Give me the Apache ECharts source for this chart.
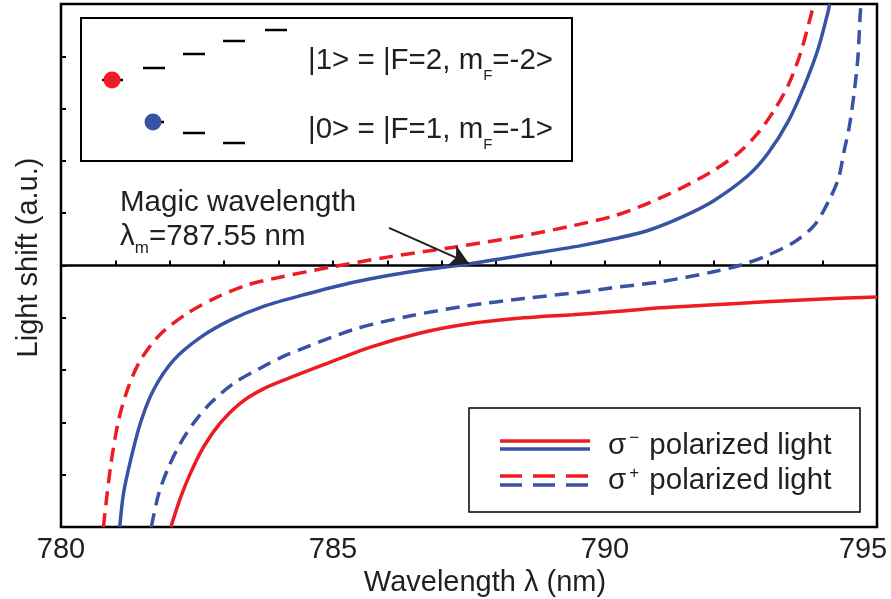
<!DOCTYPE html>
<html><head><meta charset="utf-8">
<script src="https://cdn.jsdelivr.net/npm/echarts@6/dist/echarts.min.js"></script>
<style>html,body{margin:0;padding:0;background:#fff}#c{width:891px;height:599px}</style>
</head><body><div id="c"></div>
<script>
// ---- data ----
const xMin = 780, xMax = 795;
const yMin = -5, yMax = 5;
const xLabelTicks = [780, 785, 790, 795];
const magicWavelength = 787.55;
const arrowStart = [786.03, 0.72];
const arrowEnd = [787.5, 0.04];

// sigma- polarized light, state |1> (red solid)
const sigmaMinusState1 = [
  [782.02,-5.0],[782.20,-4.43],[782.38,-3.97],[782.62,-3.47],[782.93,-3.01],[783.30,-2.63],
  [783.72,-2.36],[784.20,-2.15],[784.77,-1.92],[785.69,-1.56],[786.61,-1.29],[787.53,-1.11],
  [788.51,-1.00],[789.40,-0.94],[790.20,-0.88],[791.03,-0.81],[792.00,-0.75],[792.87,-0.70],
  [794.00,-0.64],[795.00,-0.60]
];
// sigma- polarized light, state |0> (blue solid)
const sigmaMinusState0 = [
  [781.08,-5.0],[781.15,-4.35],[781.28,-3.72],[781.46,-3.01],[781.70,-2.38],[782.07,-1.81],
  [782.57,-1.37],[783.12,-1.04],[783.70,-0.79],[784.46,-0.56],[785.38,-0.32],[786.43,-0.12],
  [787.48,0.03],[788.51,0.20],[789.56,0.38],[790.17,0.51],[790.79,0.67],[791.40,0.92],
  [792.00,1.24],[792.63,1.72],[793.00,2.15],[793.37,2.76],[793.67,3.45],[793.92,4.15],
  [794.10,4.85],[794.13,5.0]
];
// sigma+ polarized light, state |1> (red dashed)
const sigmaPlusState1 = [
  [780.78,-5.0],[780.91,-3.85],[781.06,-2.95],[781.24,-2.32],[781.46,-1.81],[781.83,-1.31],
  [782.33,-0.91],[782.88,-0.60],[783.43,-0.37],[784.00,-0.23],[784.96,-0.03],[786.00,0.16],
  [787.22,0.35],[788.45,0.56],[789.40,0.76],[790.17,0.95],[790.79,1.19],[791.40,1.48],
  [792.00,1.82],[792.45,2.15],[792.81,2.53],[793.11,2.97],[793.37,3.45],[793.60,4.08],
  [793.79,4.80],[793.84,5.0]
];
// sigma+ polarized light, state |0> (blue dashed)
const sigmaPlusState0 = [
  [781.66,-5.0],[781.80,-4.35],[781.98,-3.85],[782.20,-3.39],[782.44,-3.01],[782.75,-2.63],
  [783.18,-2.25],[783.67,-1.96],[784.04,-1.76],[784.46,-1.58],[785.39,-1.22],[786.43,-0.96],
  [787.48,-0.77],[788.51,-0.63],[789.56,-0.51],[790.11,-0.43],[791.03,-0.31],[791.95,-0.13],
  [792.50,0.01],[793.00,0.20],[793.48,0.45],[793.85,0.77],[794.12,1.25],[794.29,1.66],
  [794.40,2.21],[794.49,2.65],[794.58,3.30],[794.65,3.99],[794.69,4.79],[794.71,5.0]
];

// ---- styling ----
const RED = '#ED1C24', BLUE = '#3953A4', INK = '#231F20';
const FONT = '"Liberation Sans", Arial, Helvetica, sans-serif';
const FS = 29.5;
const DASH = [14, 8];

function curve(name, data, color, dashed) {
  return {
    name, type: 'line', data, xAxisIndex: 0, yAxisIndex: 0,
    showSymbol: false, symbol: 'none', smooth: 0.3,
    lineStyle: { color, width: 3.5, type: dashed ? DASH : 'solid', cap: 'butt' },
    silent: true, z: 3
  };
}

const chart = echarts.init(document.getElementById('c'), null, { renderer: 'canvas' });

const series = [
  curve('σ- |1>', sigmaMinusState1, RED, false),
  curve('σ+ |1>', sigmaPlusState1, RED, true),
  curve('σ+ |0>', sigmaPlusState0, BLUE, true),
  curve('σ- |0>', sigmaMinusState0, BLUE, false)
];
series[3].markLine = {
  silent: true, symbol: ['none', 'arrow'], symbolSize: [17, 19],
  label: { show: false }, emphasis: { disabled: true },
  lineStyle: { color: INK, width: 2, type: 'solid' },
  data: [[{ coord: arrowStart }, { coord: arrowEnd }]]
};

const richMain = { fontFamily: FONT, fontSize: FS, fill: INK, lineHeight: 32 };

chart.setOption({
  animation: false,
  backgroundColor: '#fff',
  grid: { left: 61, right: 14, top: 4, bottom: 72, show: true, borderColor: '#000', borderWidth: 2.5,
          backgroundColor: 'transparent', outerBoundsMode: 'none', containLabel: false },
  xAxis: [
    {
      type: 'value', min: xMin, max: xMax, interval: 5, position: 'bottom',
      axisLine: { show: false, onZero: false }, axisTick: { show: false }, splitLine: { show: false },
      name: 'Wavelength λ (nm)', nameLocation: 'middle', nameGap: 36,
      nameTextStyle: { fontFamily: FONT, fontSize: 29, color: INK, padding: [0, 0, 0, 32] },
      axisLabel: {
        fontFamily: FONT, fontSize: 29, color: INK, margin: 8,
        formatter: (v) => v === 795 ? '{r|' + v + '}' : String(v),
        rich: { r: { fontFamily: FONT, fontSize: 29, color: INK, padding: [0, 28, 0, 0] } }
      }
    },
    {
      type: 'value', min: xMin, max: xMax, interval: 1, position: 'top',
      axisLine: { show: true, onZero: true, lineStyle: { color: '#000', width: 2.5 } },
      axisTick: { show: true, inside: false, length: 5, lineStyle: { color: '#000', width: 2 } },
      axisLabel: { show: false }, splitLine: { show: false }
    }
  ],
  yAxis: {
    type: 'value', min: yMin, max: yMax, interval: 1,
    axisLine: { show: false, onZero: false }, splitLine: { show: false },
    axisTick: { show: true, inside: true, length: 5, lineStyle: { color: '#000', width: 2 } },
    axisLabel: { show: false },
    name: 'Light shift (a.u.)', nameLocation: 'middle', nameGap: 18, nameRotate: 90,
    nameTextStyle: { fontFamily: FONT, fontSize: 29, color: INK, padding: [0, 0, 0, 16] }
  },
  series,
  graphic: [
    // upper legend: level diagram
    { type: 'rect', shape: { x: 81, y: 18, width: 491, height: 143 }, style: { fill: 'none', stroke: '#000', lineWidth: 2 }, z: 10 },
    { type: 'line', shape: { x1: 102, y1: 80, x2: 123, y2: 80 }, style: { stroke: '#000', lineWidth: 2.5 }, z: 10 },
    { type: 'circle', shape: { cx: 112, cy: 80, r: 8.5 }, style: { fill: RED }, z: 11 },
    { type: 'line', shape: { x1: 143, y1: 68, x2: 165, y2: 68 }, style: { stroke: '#000', lineWidth: 2.5 }, z: 10 },
    { type: 'line', shape: { x1: 183, y1: 54, x2: 205, y2: 54 }, style: { stroke: '#000', lineWidth: 2.5 }, z: 10 },
    { type: 'line', shape: { x1: 223, y1: 41, x2: 245, y2: 41 }, style: { stroke: '#000', lineWidth: 2.5 }, z: 10 },
    { type: 'line', shape: { x1: 265, y1: 30, x2: 287, y2: 30 }, style: { stroke: '#000', lineWidth: 2.5 }, z: 10 },
    { type: 'line', shape: { x1: 146, y1: 122, x2: 164, y2: 122 }, style: { stroke: '#000', lineWidth: 2.5 }, z: 10 },
    { type: 'circle', shape: { cx: 153, cy: 122, r: 8.5 }, style: { fill: BLUE }, z: 11 },
    { type: 'line', shape: { x1: 183, y1: 133, x2: 205, y2: 133 }, style: { stroke: '#000', lineWidth: 2.5 }, z: 10 },
    { type: 'line', shape: { x1: 223, y1: 143, x2: 245, y2: 143 }, style: { stroke: '#000', lineWidth: 2.5 }, z: 10 },
    { type: 'text', x: 308, y: 61, z: 12, style: {
        text: '{t||1> = |F=2, m}{s|F}{t|=-2>}', align: 'left', verticalAlign: 'middle', fill: INK,
        rich: { t: richMain,
                s: { fontFamily: FONT, fontSize: 15, fill: INK, verticalAlign: 'bottom', lineHeight: 12, padding: [0, 0, -6, 0] } } } },
    { type: 'text', x: 308, y: 130, z: 12, style: {
        text: '{t||0> = |F=1, m}{s|F}{t|=-1>}', align: 'left', verticalAlign: 'middle', fill: INK,
        rich: { t: richMain,
                s: { fontFamily: FONT, fontSize: 15, fill: INK, verticalAlign: 'bottom', lineHeight: 12, padding: [0, 0, -6, 0] } } } },
    // magic wavelength annotation
    { type: 'text', x: 120, y: 203, z: 12, style: { text: 'Magic wavelength', fontFamily: FONT, fontSize: FS, fill: INK, align: 'left', verticalAlign: 'middle' } },
    { type: 'text', x: 120, y: 237, z: 12, style: {
        text: '{t|λ}{s|m}{t|=787.55 nm}', align: 'left', verticalAlign: 'middle', fill: INK,
        rich: { t: richMain,
                s: { fontFamily: FONT, fontSize: 17, fill: INK, verticalAlign: 'bottom', lineHeight: 14, padding: [0, 0, -4, 0] } } } },
    // lower legend
    { type: 'rect', shape: { x: 469, y: 408, width: 391, height: 104 }, style: { fill: '#fff', stroke: '#000', lineWidth: 1.5 }, z: 10 },
    { type: 'line', shape: { x1: 500, y1: 441, x2: 590, y2: 441 }, style: { stroke: RED, lineWidth: 3.5 }, z: 11 },
    { type: 'line', shape: { x1: 500, y1: 449, x2: 590, y2: 449 }, style: { stroke: BLUE, lineWidth: 3.5 }, z: 11 },
    { type: 'line', shape: { x1: 500, y1: 476, x2: 590, y2: 476 }, style: { stroke: RED, lineWidth: 3.5, lineDash: [22, 11] }, z: 11 },
    { type: 'line', shape: { x1: 500, y1: 485, x2: 590, y2: 485 }, style: { stroke: BLUE, lineWidth: 3.5, lineDash: [22, 11] }, z: 11 },
    { type: 'text', x: 608, y: 446, z: 12, style: {
        text: '{t|σ}{p|−}{t| polarized light}', align: 'left', verticalAlign: 'middle', fill: INK,
        rich: { t: richMain,
                p: { fontFamily: FONT, fontSize: 17, fill: INK, verticalAlign: 'top', lineHeight: 14, padding: [0, 2, 0, 3] } } } },
    { type: 'text', x: 608, y: 481, z: 12, style: {
        text: '{t|σ}{p|+}{t| polarized light}', align: 'left', verticalAlign: 'middle', fill: INK,
        rich: { t: richMain,
                p: { fontFamily: FONT, fontSize: 17, fill: INK, verticalAlign: 'top', lineHeight: 14, padding: [0, 2, 0, 3] } } } }
  ]
});
</script>
</body></html>
